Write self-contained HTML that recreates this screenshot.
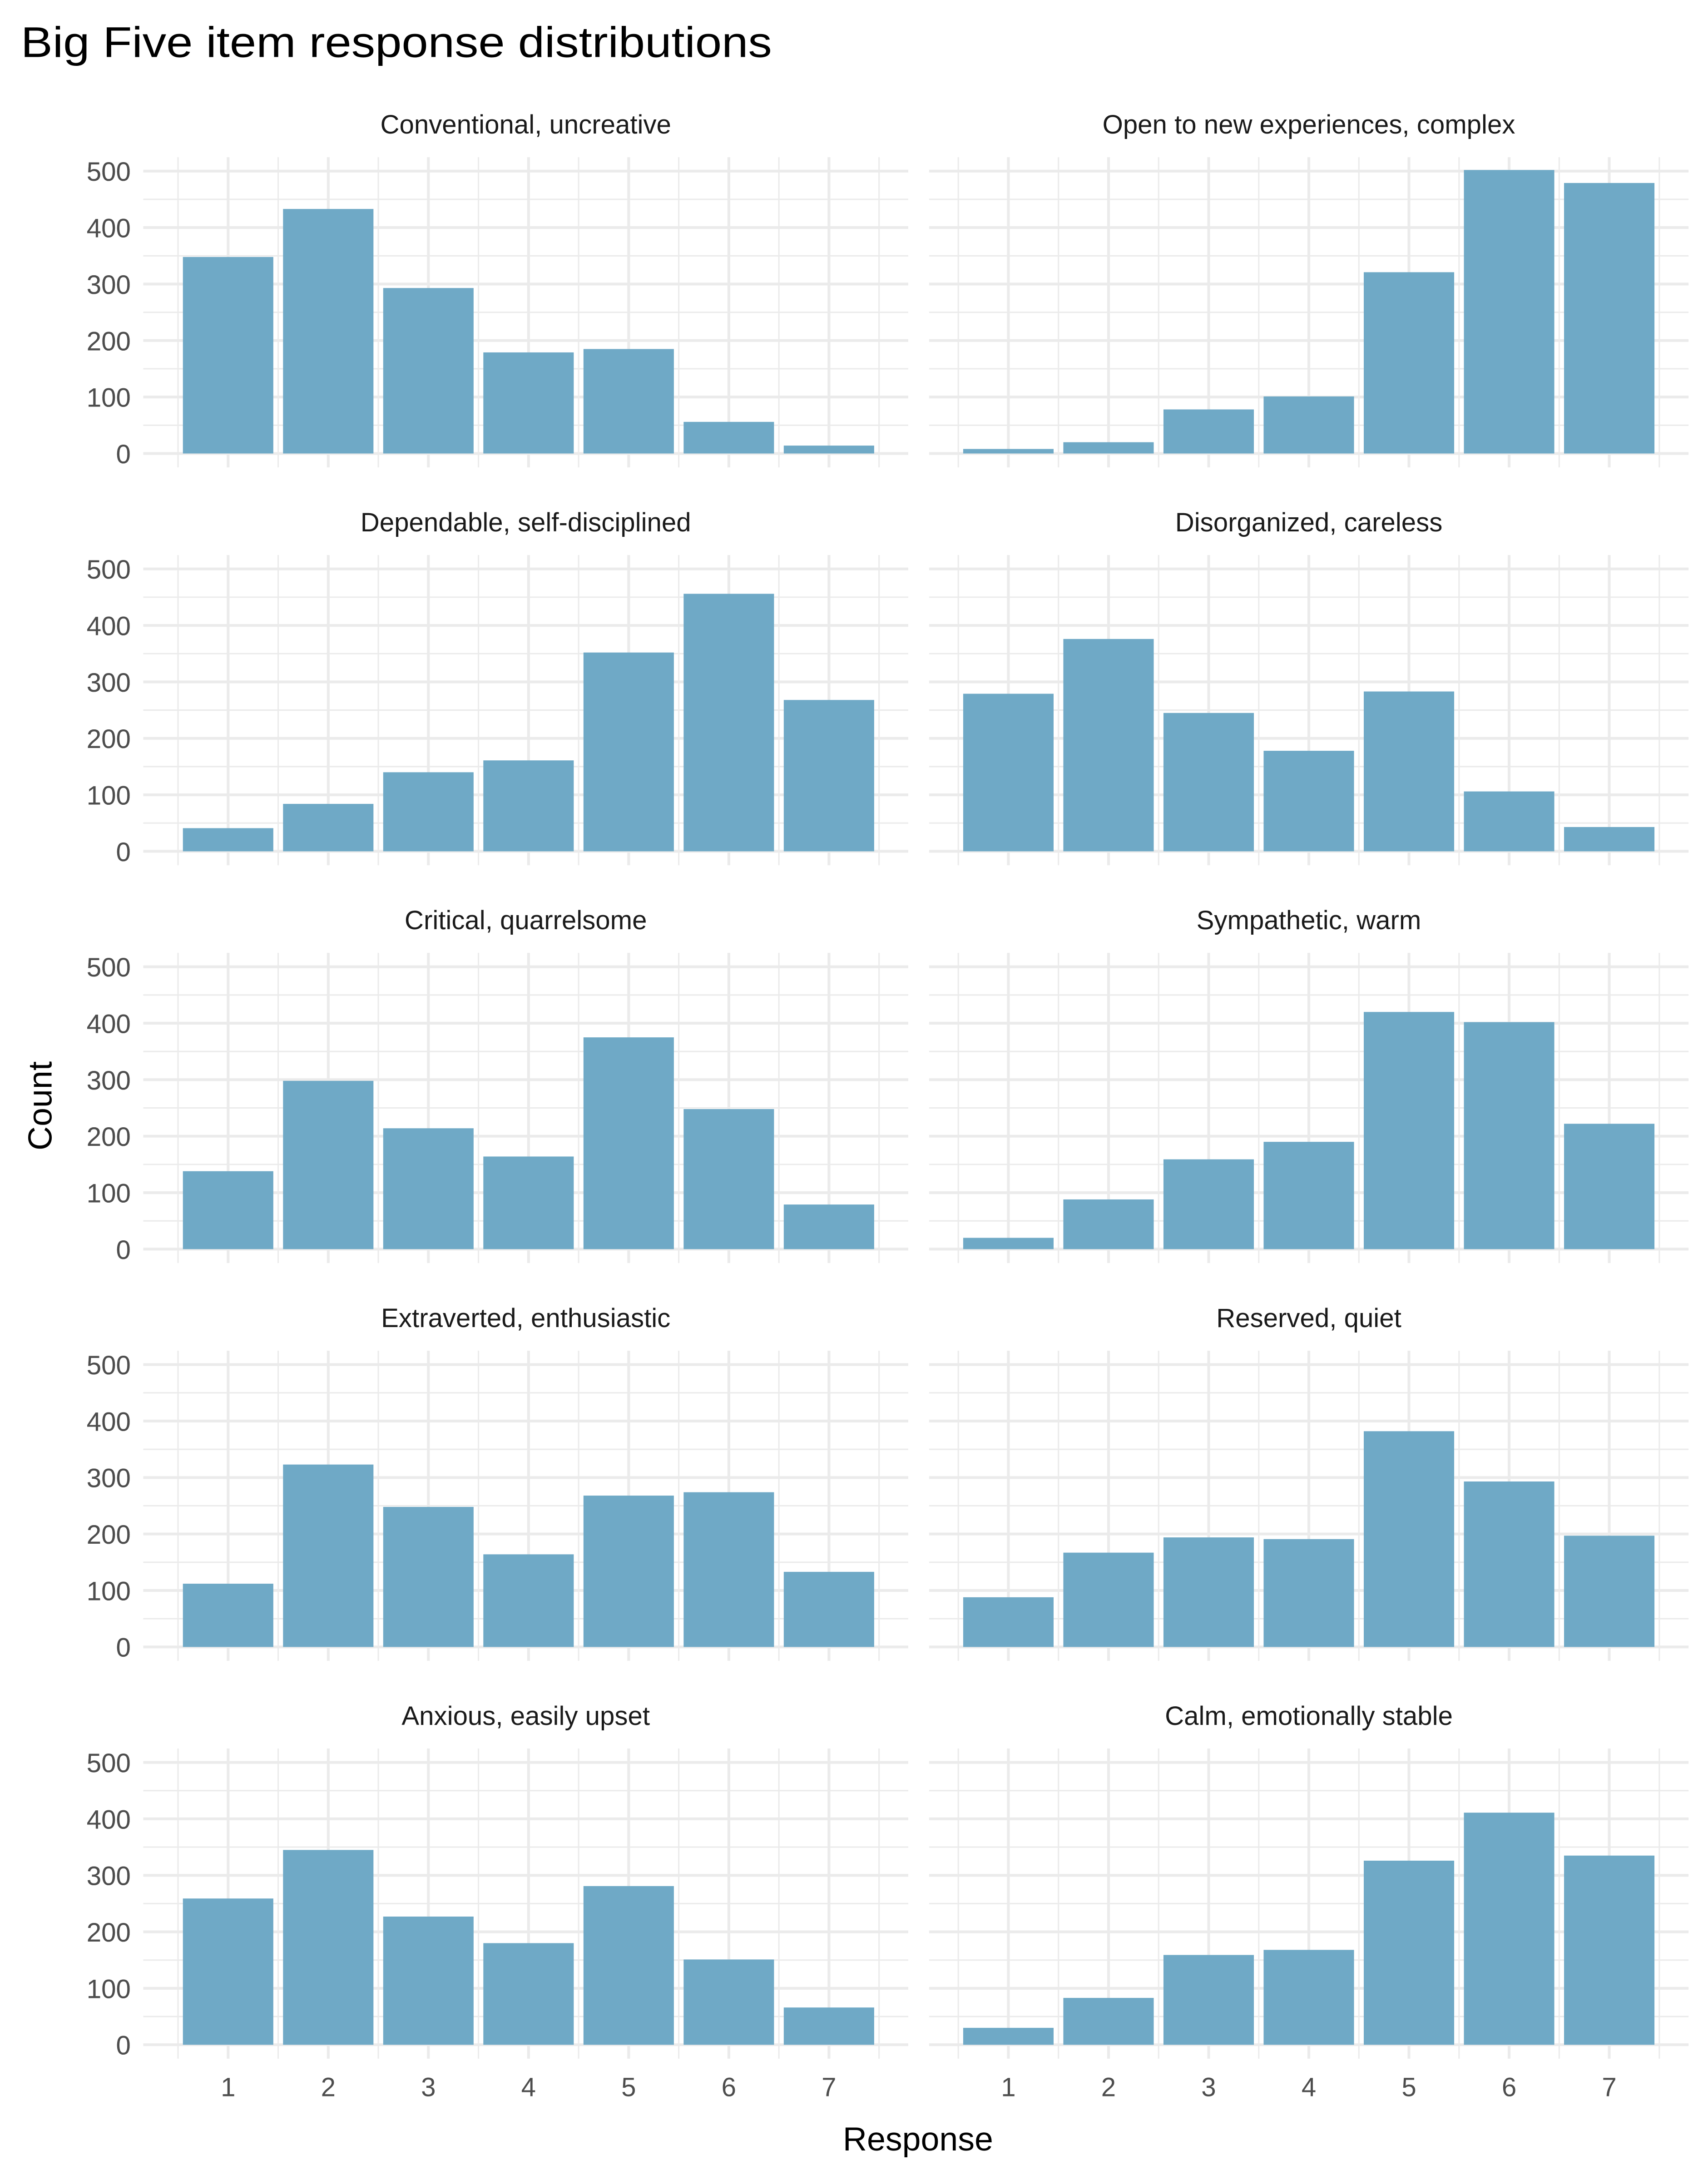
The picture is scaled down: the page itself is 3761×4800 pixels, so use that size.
<!DOCTYPE html>
<html><head><meta charset="utf-8"><style>
html,body{margin:0;padding:0;background:#fff;}
svg{display:block;font-family:"Liberation Sans","DejaVu Sans",sans-serif;}
</style></head><body>
<svg id="chart" width="3761" height="4800" viewBox="0 0 1228 1567.2" xmlns="http://www.w3.org/2000/svg">
<rect width="1228" height="1567.2" fill="#fff"/>
<text x="15" y="41" font-size="31" fill="#000" textLength="540" lengthAdjust="spacingAndGlyphs">Big Five item response distributions</text>
<text x="660" y="1546" font-size="24" text-anchor="middle" fill="#000">Response</text>
<text transform="translate(37,795) rotate(-90)" font-size="24" text-anchor="middle" fill="#000">Count</text>
<g id="panels"></g>
</svg>
<script>
const panelTitles = ["Conventional, uncreative","Open to new experiences, complex","Dependable, self-disciplined","Disorganized, careless","Critical, quarrelsome","Sympathetic, warm","Extraverted, enthusiastic","Reserved, quiet","Anxious, easily upset","Calm, emotionally stable"];
const categories = [1,2,3,4,5,6,7];
const yTicks = [0,100,200,300,400,500];
const conventional = [348,433,293,179,185,56,14];
const openNew = [8,20,78,101,321,502,479];
const dependable = [41,84,140,161,352,456,268];
const disorganized = [279,376,245,178,283,106,43];
const critical = [138,298,214,164,375,248,79];
const sympathetic = [20,88,159,190,420,402,222];
const extraverted = [112,323,248,164,268,274,133];
const reserved = [88,167,194,191,382,293,197];
const anxious = [259,345,227,180,281,151,66];
const calm = [30,83,159,168,326,411,335];
const seriesList = [conventional,openNew,dependable,disorganized,critical,sympathetic,extraverted,reserved,anxious,calm];

const NS="http://www.w3.org/2000/svg";
const root=document.getElementById('panels');
function mk(tag,attrs,parent){const e=document.createElementNS(NS,tag);for(const k in attrs)e.setAttribute(k,attrs[k]);parent.appendChild(e);return e;}
const colX0=[164,725], step=72, rowZero=[326,612,898,1184,1470], pxPer=203/500;
const panelW=[[103,653],[668,1214]];
seriesList.forEach((vals,i)=>{
  const col=i%2,row=Math.floor(i/2);
  const xs=v=>colX0[col]+(v-1)*step;
  const ys=v=>rowZero[row]-v*pxPer;
  const g=mk('g',{},root);
  
  
  const top=ys(500)-10, bot=rowZero[row]+10;
  const [L,R]=panelW[col];
  // minor horizontal
  for(let v=50;v<=450;v+=100){const l=mk('line',{x1:L,x2:R,y1:ys(v),y2:ys(v),stroke:'#ebebeb','stroke-width':1},g);}
  for(let k=0.5;k<=7.5;k+=1){mk('line',{x1:xs(k),x2:xs(k),y1:top,y2:bot,stroke:'#ebebeb','stroke-width':1},g);}
  yTicks.forEach(t=>{mk('line',{x1:L,x2:R,y1:ys(t),y2:ys(t),stroke:'#ebebeb','stroke-width':2},g);});
  categories.forEach(c=>{mk('line',{x1:xs(c),x2:xs(c),y1:top,y2:bot,stroke:'#ebebeb','stroke-width':2},g);});
  // strip
  const st=mk('text',{x:(L+R)/2,y:ys(500)-27,'font-size':19,'text-anchor':'middle',fill:'#1a1a1a'},g);
  st.textContent=panelTitles[i];
  
  
  // y labels
  yTicks.forEach(t=>{const tx=mk('text',{x:94,y:ys(t)+7,'font-size':19,'text-anchor':'end',fill:'#4d4d4d'},g);tx.textContent=t;
    
    });
  if(i===0||i===1){} 
  // bars
  vals.forEach((v,j)=>{
    const c=categories[j];
    const r=mk('rect',{x:xs(c)-32.5,y:ys(v),width:65,height:v*pxPer,fill:'#6aa6c4','fill-opacity':0.97},g);
    
    
  });
  if(row===4){categories.forEach(c=>{const tx=mk('text',{x:xs(c),y:1507,'font-size':19,'text-anchor':'middle',fill:'#4d4d4d'},g);tx.textContent=c;
    
    });}
});
</script>
</body></html>
